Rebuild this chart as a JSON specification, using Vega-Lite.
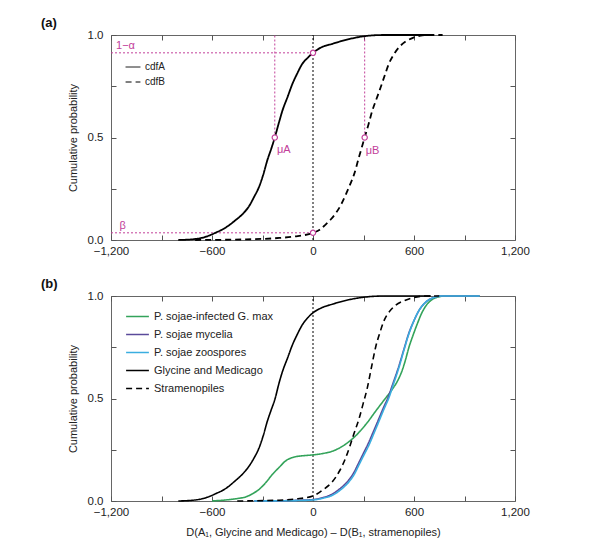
{
  "$schema": "https://vega.github.io/schema/vega-lite/v6.json",
  "padding": {"left": 40, "top": 16, "right": 5, "bottom": 5},
  "spacing": 20,
  "resolve": {"scale": {"strokeDash": "independent", "color": "independent"}, "legend": {"strokeDash": "independent", "color": "independent"}},
  "config": {
    "font": "Liberation Sans",
    "view": {"stroke": "#666", "strokeWidth": 1},
    "axis": {"grid": false, "domain": false, "tickColor": "#555", "tickSize": 5, "offset": -5, "labelFontSize": 11.5, "labelColor": "#222", "titleFontSize": 11, "titleFontWeight": "normal", "titleColor": "#222", "labelFlush": false},
    "axisX": {"labelPadding": 5},
    "axisY": {"labelPadding": 8, "titlePadding": 9}
  },
  "datasets": {
    "zero": [{"x": 0, "y": 0, "y2": 1}],
    "guides": [
      {"x": -1200, "x2": 0, "y": 0.913, "y2": 0.913},
      {"x": -1200, "x2": 0, "y": 0.035, "y2": 0.035},
      {"x": -227, "x2": -227, "y": 0.5, "y2": 1},
      {"x": 307, "x2": 307, "y": 0.5, "y2": 1}
    ],
    "circles": [
      {"x": -227, "y": 0.5}, {"x": 307, "y": 0.5}, {"x": 0, "y": 0.913}, {"x": 0, "y": 0.035}
    ],
    "labels": [
      {"x": -1170, "y": 0.92, "label": "1−α"},
      {"x": -1150, "y": 0.045, "label": "β"},
      {"x": -214, "y": 0.415, "label": "μA"},
      {"x": 313, "y": 0.41, "label": "μB"}
    ],
    "cdfa": [
      {"series": "cdfA", "x": -800, "y": 0}, {"series": "cdfA", "x": -700, "y": 0.005}, {"series": "cdfA", "x": -640, "y": 0.015},
      {"series": "cdfA", "x": -580, "y": 0.035}, {"series": "cdfA", "x": -520, "y": 0.06}, {"series": "cdfA", "x": -460, "y": 0.097},
      {"series": "cdfA", "x": -420, "y": 0.125}, {"series": "cdfA", "x": -380, "y": 0.165}, {"series": "cdfA", "x": -350, "y": 0.21},
      {"series": "cdfA", "x": -320, "y": 0.26}, {"series": "cdfA", "x": -295, "y": 0.32}, {"series": "cdfA", "x": -271, "y": 0.39},
      {"series": "cdfA", "x": -248, "y": 0.445}, {"series": "cdfA", "x": -227, "y": 0.5}, {"series": "cdfA", "x": -205, "y": 0.565},
      {"series": "cdfA", "x": -182, "y": 0.63}, {"series": "cdfA", "x": -150, "y": 0.7}, {"series": "cdfA", "x": -123, "y": 0.76},
      {"series": "cdfA", "x": -95, "y": 0.81}, {"series": "cdfA", "x": -63, "y": 0.86}, {"series": "cdfA", "x": -30, "y": 0.89},
      {"series": "cdfA", "x": 0, "y": 0.913}, {"series": "cdfA", "x": 50, "y": 0.94}, {"series": "cdfA", "x": 115, "y": 0.957},
      {"series": "cdfA", "x": 214, "y": 0.98}, {"series": "cdfA", "x": 313, "y": 0.995}, {"series": "cdfA", "x": 420, "y": 1.0},
      {"series": "cdfA", "x": 700, "y": 1.0},
      {"series": "cdfB", "x": -700, "y": 0}, {"series": "cdfB", "x": -400, "y": 0.003}, {"series": "cdfB", "x": -200, "y": 0.01},
      {"series": "cdfB", "x": -100, "y": 0.018}, {"series": "cdfB", "x": 0, "y": 0.035}, {"series": "cdfB", "x": 40, "y": 0.05},
      {"series": "cdfB", "x": 75, "y": 0.075}, {"series": "cdfB", "x": 105, "y": 0.1}, {"series": "cdfB", "x": 135, "y": 0.13},
      {"series": "cdfB", "x": 165, "y": 0.17}, {"series": "cdfB", "x": 194, "y": 0.22}, {"series": "cdfB", "x": 220, "y": 0.27},
      {"series": "cdfB", "x": 244, "y": 0.32}, {"series": "cdfB", "x": 275, "y": 0.41}, {"series": "cdfB", "x": 307, "y": 0.5},
      {"series": "cdfB", "x": 330, "y": 0.565}, {"series": "cdfB", "x": 352, "y": 0.63}, {"series": "cdfB", "x": 378, "y": 0.69},
      {"series": "cdfB", "x": 402, "y": 0.745}, {"series": "cdfB", "x": 427, "y": 0.805}, {"series": "cdfB", "x": 451, "y": 0.86},
      {"series": "cdfB", "x": 480, "y": 0.905}, {"series": "cdfB", "x": 511, "y": 0.94}, {"series": "cdfB", "x": 550, "y": 0.968},
      {"series": "cdfB", "x": 590, "y": 0.985}, {"series": "cdfB", "x": 630, "y": 0.995}, {"series": "cdfB", "x": 669, "y": 1.0},
      {"series": "cdfB", "x": 770, "y": 1.0}
    ],
    "cdfb": [
      {"series": "P. sojae-infected G. max", "x": -600, "y": 0}, {"series": "P. sojae-infected G. max", "x": -520, "y": 0.005},
      {"series": "P. sojae-infected G. max", "x": -450, "y": 0.012}, {"series": "P. sojae-infected G. max", "x": -400, "y": 0.02},
      {"series": "P. sojae-infected G. max", "x": -360, "y": 0.035}, {"series": "P. sojae-infected G. max", "x": -320, "y": 0.057},
      {"series": "P. sojae-infected G. max", "x": -280, "y": 0.09}, {"series": "P. sojae-infected G. max", "x": -241, "y": 0.13},
      {"series": "P. sojae-infected G. max", "x": -200, "y": 0.165}, {"series": "P. sojae-infected G. max", "x": -162, "y": 0.196},
      {"series": "P. sojae-infected G. max", "x": -130, "y": 0.21}, {"series": "P. sojae-infected G. max", "x": -103, "y": 0.216},
      {"series": "P. sojae-infected G. max", "x": -70, "y": 0.22}, {"series": "P. sojae-infected G. max", "x": -43, "y": 0.222},
      {"series": "P. sojae-infected G. max", "x": 0, "y": 0.225}, {"series": "P. sojae-infected G. max", "x": 60, "y": 0.232},
      {"series": "P. sojae-infected G. max", "x": 115, "y": 0.243}, {"series": "P. sojae-infected G. max", "x": 165, "y": 0.262},
      {"series": "P. sojae-infected G. max", "x": 214, "y": 0.29}, {"series": "P. sojae-infected G. max", "x": 250, "y": 0.315},
      {"series": "P. sojae-infected G. max", "x": 273, "y": 0.335}, {"series": "P. sojae-infected G. max", "x": 320, "y": 0.38},
      {"series": "P. sojae-infected G. max", "x": 372, "y": 0.438}, {"series": "P. sojae-infected G. max", "x": 420, "y": 0.49},
      {"series": "P. sojae-infected G. max", "x": 471, "y": 0.545}, {"series": "P. sojae-infected G. max", "x": 505, "y": 0.59},
      {"series": "P. sojae-infected G. max", "x": 531, "y": 0.64}, {"series": "P. sojae-infected G. max", "x": 550, "y": 0.69},
      {"series": "P. sojae-infected G. max", "x": 570, "y": 0.75}, {"series": "P. sojae-infected G. max", "x": 595, "y": 0.81},
      {"series": "P. sojae-infected G. max", "x": 620, "y": 0.865}, {"series": "P. sojae-infected G. max", "x": 645, "y": 0.915},
      {"series": "P. sojae-infected G. max", "x": 669, "y": 0.95}, {"series": "P. sojae-infected G. max", "x": 700, "y": 0.978},
      {"series": "P. sojae-infected G. max", "x": 729, "y": 0.992}, {"series": "P. sojae-infected G. max", "x": 788, "y": 1.0},
      {"series": "P. sojae-infected G. max", "x": 990, "y": 1.0},
      {"series": "P. sojae mycelia", "x": -350, "y": 0}, {"series": "P. sojae mycelia", "x": -200, "y": 0.001},
      {"series": "P. sojae mycelia", "x": -100, "y": 0.003}, {"series": "P. sojae mycelia", "x": 0, "y": 0.007},
      {"series": "P. sojae mycelia", "x": 60, "y": 0.017}, {"series": "P. sojae mycelia", "x": 110, "y": 0.032},
      {"series": "P. sojae mycelia", "x": 160, "y": 0.06}, {"series": "P. sojae mycelia", "x": 208, "y": 0.098},
      {"series": "P. sojae mycelia", "x": 240, "y": 0.135}, {"series": "P. sojae mycelia", "x": 268, "y": 0.18},
      {"series": "P. sojae mycelia", "x": 298, "y": 0.23}, {"series": "P. sojae mycelia", "x": 328, "y": 0.28},
      {"series": "P. sojae mycelia", "x": 357, "y": 0.335}, {"series": "P. sojae mycelia", "x": 387, "y": 0.393},
      {"series": "P. sojae mycelia", "x": 416, "y": 0.45}, {"series": "P. sojae mycelia", "x": 447, "y": 0.508},
      {"series": "P. sojae mycelia", "x": 477, "y": 0.578}, {"series": "P. sojae mycelia", "x": 509, "y": 0.655},
      {"series": "P. sojae mycelia", "x": 539, "y": 0.737}, {"series": "P. sojae mycelia", "x": 569, "y": 0.818},
      {"series": "P. sojae mycelia", "x": 600, "y": 0.88}, {"series": "P. sojae mycelia", "x": 630, "y": 0.93},
      {"series": "P. sojae mycelia", "x": 670, "y": 0.97}, {"series": "P. sojae mycelia", "x": 709, "y": 0.99},
      {"series": "P. sojae mycelia", "x": 768, "y": 1.0}, {"series": "P. sojae mycelia", "x": 990, "y": 1.0},
      {"series": "P. sojae zoospores", "x": -350, "y": 0}, {"series": "P. sojae zoospores", "x": -200, "y": 0.001},
      {"series": "P. sojae zoospores", "x": -100, "y": 0.002}, {"series": "P. sojae zoospores", "x": 0, "y": 0.005},
      {"series": "P. sojae zoospores", "x": 60, "y": 0.014}, {"series": "P. sojae zoospores", "x": 115, "y": 0.028},
      {"series": "P. sojae zoospores", "x": 165, "y": 0.055}, {"series": "P. sojae zoospores", "x": 214, "y": 0.094},
      {"series": "P. sojae zoospores", "x": 245, "y": 0.13}, {"series": "P. sojae zoospores", "x": 273, "y": 0.176},
      {"series": "P. sojae zoospores", "x": 303, "y": 0.225}, {"series": "P. sojae zoospores", "x": 333, "y": 0.274},
      {"series": "P. sojae zoospores", "x": 362, "y": 0.33}, {"series": "P. sojae zoospores", "x": 392, "y": 0.389},
      {"series": "P. sojae zoospores", "x": 420, "y": 0.445}, {"series": "P. sojae zoospores", "x": 451, "y": 0.504},
      {"series": "P. sojae zoospores", "x": 480, "y": 0.575}, {"series": "P. sojae zoospores", "x": 511, "y": 0.652},
      {"series": "P. sojae zoospores", "x": 540, "y": 0.735}, {"series": "P. sojae zoospores", "x": 570, "y": 0.816},
      {"series": "P. sojae zoospores", "x": 600, "y": 0.88}, {"series": "P. sojae zoospores", "x": 630, "y": 0.93},
      {"series": "P. sojae zoospores", "x": 670, "y": 0.97}, {"series": "P. sojae zoospores", "x": 709, "y": 0.99},
      {"series": "P. sojae zoospores", "x": 768, "y": 1.0}, {"series": "P. sojae zoospores", "x": 990, "y": 1.0},
      {"series": "Glycine and Medicago", "x": -800, "y": 0}, {"series": "Glycine and Medicago", "x": -700, "y": 0.005},
      {"series": "Glycine and Medicago", "x": -640, "y": 0.015}, {"series": "Glycine and Medicago", "x": -580, "y": 0.035},
      {"series": "Glycine and Medicago", "x": -520, "y": 0.06}, {"series": "Glycine and Medicago", "x": -460, "y": 0.1},
      {"series": "Glycine and Medicago", "x": -420, "y": 0.13}, {"series": "Glycine and Medicago", "x": -380, "y": 0.17},
      {"series": "Glycine and Medicago", "x": -350, "y": 0.21}, {"series": "Glycine and Medicago", "x": -320, "y": 0.26},
      {"series": "Glycine and Medicago", "x": -295, "y": 0.32}, {"series": "Glycine and Medicago", "x": -271, "y": 0.39},
      {"series": "Glycine and Medicago", "x": -248, "y": 0.445}, {"series": "Glycine and Medicago", "x": -225, "y": 0.5},
      {"series": "Glycine and Medicago", "x": -205, "y": 0.565}, {"series": "Glycine and Medicago", "x": -182, "y": 0.63},
      {"series": "Glycine and Medicago", "x": -150, "y": 0.7}, {"series": "Glycine and Medicago", "x": -123, "y": 0.76},
      {"series": "Glycine and Medicago", "x": -95, "y": 0.81}, {"series": "Glycine and Medicago", "x": -63, "y": 0.86},
      {"series": "Glycine and Medicago", "x": -30, "y": 0.895}, {"series": "Glycine and Medicago", "x": 0, "y": 0.918},
      {"series": "Glycine and Medicago", "x": 50, "y": 0.942}, {"series": "Glycine and Medicago", "x": 115, "y": 0.96},
      {"series": "Glycine and Medicago", "x": 214, "y": 0.982}, {"series": "Glycine and Medicago", "x": 313, "y": 0.995},
      {"series": "Glycine and Medicago", "x": 420, "y": 1.0}, {"series": "Glycine and Medicago", "x": 700, "y": 1.0},
      {"series": "Stramenopiles", "x": -450, "y": 0}, {"series": "Stramenopiles", "x": -200, "y": 0.004},
      {"series": "Stramenopiles", "x": -100, "y": 0.01}, {"series": "Stramenopiles", "x": 0, "y": 0.025},
      {"series": "Stramenopiles", "x": 60, "y": 0.055}, {"series": "Stramenopiles", "x": 115, "y": 0.094},
      {"series": "Stramenopiles", "x": 160, "y": 0.15}, {"series": "Stramenopiles", "x": 194, "y": 0.21},
      {"series": "Stramenopiles", "x": 220, "y": 0.27}, {"series": "Stramenopiles", "x": 244, "y": 0.33},
      {"series": "Stramenopiles", "x": 273, "y": 0.4}, {"series": "Stramenopiles", "x": 298, "y": 0.475},
      {"series": "Stramenopiles", "x": 323, "y": 0.553}, {"series": "Stramenopiles", "x": 348, "y": 0.655},
      {"series": "Stramenopiles", "x": 372, "y": 0.75}, {"series": "Stramenopiles", "x": 397, "y": 0.82},
      {"series": "Stramenopiles", "x": 422, "y": 0.88}, {"series": "Stramenopiles", "x": 455, "y": 0.925},
      {"series": "Stramenopiles", "x": 491, "y": 0.955}, {"series": "Stramenopiles", "x": 545, "y": 0.978},
      {"series": "Stramenopiles", "x": 600, "y": 0.993}, {"series": "Stramenopiles", "x": 669, "y": 1.0},
      {"series": "Stramenopiles", "x": 750, "y": 1.0}
    ]
  },
  "vconcat": [
    {
      "width": 404,
      "height": 205,
      "title": {"text": "(a)", "anchor": "start", "frame": "group", "dx": -70, "fontSize": 13, "fontWeight": "bold", "offset": -1, "color": "#111"},
      "resolve": {"axis": {"x": "independent", "y": "independent"}},
      "layer": [
        {
          "data": {"name": "zero"},
          "mark": {"type": "rule", "color": "black", "strokeDash": [2, 2], "strokeWidth": 1},
          "encoding": {
            "x": {"field": "x", "type": "quantitative", "scale": {"domain": [-1200, 1200], "nice": false},
              "axis": {"orient": "bottom", "values": [-1200, -900, -600, -300, 0, 300, 600, 900, 1200], "labelExpr": "datum.value % 600 === 0 ? format(datum.value, ',') : ''", "title": null}},
            "y": {"field": "y", "type": "quantitative", "scale": {"domain": [0, 1], "nice": false},
              "axis": {"orient": "left", "values": [0, 0.25, 0.5, 0.75, 1], "labelExpr": "(datum.value * 2) % 1 === 0 ? format(datum.value, '.1f') : ''", "title": "Cumulative probability"}},
            "y2": {"field": "y2"}
          }
        },
        {
          "data": {"name": "guides"},
          "mark": {"type": "rule", "color": "#c2409a", "strokeDash": [2, 2], "strokeWidth": 1},
          "encoding": {
            "x": {"field": "x", "type": "quantitative", "axis": {"orient": "top", "values": [-1200, -900, -600, -300, 0, 300, 600, 900, 1200], "labels": false, "title": null}},
            "x2": {"field": "x2"},
            "y": {"field": "y", "type": "quantitative", "axis": {"orient": "right", "values": [0.25, 0.5, 0.75], "labels": false, "title": null}},
            "y2": {"field": "y2"}
          }
        },
        {
          "data": {"name": "cdfa"},
          "mark": {"type": "line", "color": "black", "strokeWidth": 1.8, "interpolate": "monotone"},
          "encoding": {
            "x": {"field": "x", "type": "quantitative", "axis": null},
            "y": {"field": "y", "type": "quantitative", "axis": null},
            "strokeDash": {"field": "series", "type": "nominal", "scale": {"domain": ["cdfA", "cdfB"], "range": [[1, 0], [6, 4]]},
              "legend": {"title": null, "orient": "none", "legendX": 14, "legendY": 24, "symbolType": "stroke", "symbolStrokeColor": "black", "symbolStrokeWidth": 1, "symbolSize": 220, "labelFontSize": 10, "rowPadding": 2, "labelColor": "#222"}}
          }
        },
        {
          "data": {"name": "circles"},
          "mark": {"type": "point", "shape": "circle", "filled": true, "fill": "white", "stroke": "#c2409a", "strokeWidth": 1.2, "size": 28, "opacity": 1},
          "encoding": {
            "x": {"field": "x", "type": "quantitative", "axis": null},
            "y": {"field": "y", "type": "quantitative", "axis": null}
          }
        },
        {
          "data": {"name": "labels"},
          "mark": {"type": "text", "color": "#c2409a", "fontSize": 11, "align": "left", "baseline": "bottom"},
          "encoding": {
            "x": {"field": "x", "type": "quantitative", "axis": null},
            "y": {"field": "y", "type": "quantitative", "axis": null},
            "text": {"field": "label"}
          }
        }
      ]
    },
    {
      "width": 404,
      "height": 205,
      "title": {"text": "(b)", "anchor": "start", "frame": "group", "dx": -70, "fontSize": 13, "fontWeight": "bold", "offset": -1, "color": "#111"},
      "resolve": {"axis": {"x": "independent", "y": "independent"}},
      "layer": [
        {
          "data": {"name": "zero"},
          "mark": {"type": "rule", "color": "black", "strokeDash": [2, 2], "strokeWidth": 1},
          "encoding": {
            "x": {"field": "x", "type": "quantitative", "scale": {"domain": [-1200, 1200], "nice": false},
              "axis": {"orient": "bottom", "values": [-1200, -900, -600, -300, 0, 300, 600, 900, 1200], "labelExpr": "datum.value % 600 === 0 ? format(datum.value, ',') : ''", "title": "D(A₁, Glycine and Medicago) – D(B₁, stramenopiles)", "titlePadding": 9}},
            "y": {"field": "y", "type": "quantitative", "scale": {"domain": [0, 1], "nice": false},
              "axis": {"orient": "left", "values": [0, 0.25, 0.5, 0.75, 1], "labelExpr": "(datum.value * 2) % 1 === 0 ? format(datum.value, '.1f') : ''", "title": "Cumulative probability"}},
            "y2": {"field": "y2"}
          }
        },
        {
          "data": {"name": "cdfb"},
          "mark": {"type": "line", "strokeWidth": 1.6, "interpolate": "monotone"},
          "encoding": {
            "x": {"field": "x", "type": "quantitative", "axis": {"orient": "top", "values": [-1200, -900, -600, -300, 0, 300, 600, 900, 1200], "labels": false, "title": null}},
            "y": {"field": "y", "type": "quantitative", "axis": {"orient": "right", "values": [0.25, 0.5, 0.75], "labels": false, "title": null}},
            "color": {"field": "series", "type": "nominal",
              "scale": {"domain": ["P. sojae-infected G. max", "P. sojae mycelia", "P. sojae zoospores", "Glycine and Medicago", "Stramenopiles"], "range": ["#33a35a", "#5a4a9a", "#3aaee0", "#000000", "#000000"]},
              "legend": {"title": null, "orient": "none", "legendX": 14, "legendY": 8, "symbolType": "stroke", "symbolStrokeWidth": 1.5, "symbolSize": 520, "labelFontSize": 11, "rowPadding": -4, "labelColor": "#222"}},
            "strokeDash": {"field": "series", "type": "nominal",
              "scale": {"domain": ["P. sojae-infected G. max", "P. sojae mycelia", "P. sojae zoospores", "Glycine and Medicago", "Stramenopiles"], "range": [[1, 0], [1, 0], [1, 0], [1, 0], [6, 4]]},
              "legend": {"title": null, "orient": "none", "legendX": 14, "legendY": 8, "symbolType": "stroke", "symbolStrokeWidth": 1.5, "symbolSize": 520, "labelFontSize": 11, "rowPadding": -4, "labelColor": "#222"}}
          }
        }
      ]
    }
  ]
}
